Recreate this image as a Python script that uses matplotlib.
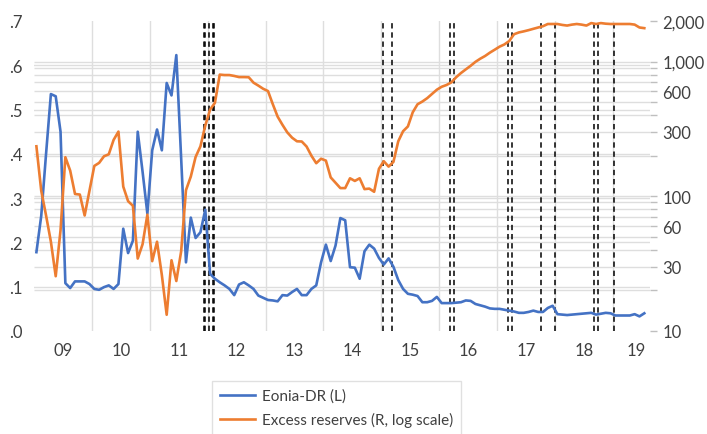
import numpy as np
import matplotlib.pyplot as plt
from matplotlib.ticker import FixedLocator, NullFormatter

plt.rcParams['font.family'] = ['Lato', 'DejaVu Sans']

# monthly data, Jan 2009 - Jul 2019
eonia_dr = [0.178, 0.26, 0.40, 0.535, 0.530, 0.45, 0.108, 0.097, 0.112, 0.112, 0.112, 0.106,
            0.095, 0.093, 0.099, 0.103, 0.095, 0.106, 0.231, 0.176, 0.204, 0.45, 0.36, 0.265,
            0.408, 0.455, 0.408, 0.56, 0.532, 0.623, 0.39, 0.155, 0.256, 0.21, 0.223, 0.274,
            0.129, 0.118, 0.110, 0.103, 0.095, 0.081, 0.105, 0.110, 0.103, 0.095, 0.080, 0.075,
            0.070, 0.069, 0.067, 0.081, 0.080, 0.088, 0.095, 0.081, 0.081, 0.095, 0.103, 0.155,
            0.195, 0.158, 0.193, 0.255, 0.250, 0.144, 0.143, 0.118, 0.180, 0.195, 0.186, 0.165,
            0.150, 0.164, 0.145, 0.115, 0.095, 0.084, 0.082, 0.079, 0.065, 0.065, 0.068, 0.077,
            0.063, 0.063, 0.063, 0.064, 0.065, 0.069, 0.068, 0.061, 0.058, 0.055, 0.051, 0.050,
            0.050, 0.048, 0.046, 0.044, 0.041, 0.041, 0.043, 0.046, 0.043, 0.043, 0.052, 0.057,
            0.038, 0.037, 0.036, 0.037, 0.038, 0.039, 0.040, 0.041, 0.037, 0.039, 0.041, 0.040,
            0.035, 0.035, 0.035, 0.035, 0.038, 0.033, 0.040]

excess_reserves = [235, 110, 72, 46, 25.5, 56, 195, 155, 104, 103, 72, 110,
                   168, 177, 198, 205, 262, 302, 118, 92, 85, 34.5, 44, 73,
                   33, 46, 26, 13.2, 33.5, 23.5, 39, 111, 140, 196, 235, 335,
                   440, 494, 800, 794, 794, 782, 767, 767, 765, 697, 663, 628,
                   604, 482, 390, 339, 298, 272, 256, 255, 234, 200, 176, 190,
                   184, 138, 126, 115, 115, 136, 130, 136, 113, 114, 108, 160,
                   182, 166, 180, 256, 304, 330, 420, 482, 505, 535, 575, 618,
                   650, 670, 700, 765, 822, 875, 930, 995, 1050, 1100, 1165, 1225,
                   1290, 1340, 1420, 1595, 1645, 1675, 1710, 1750, 1790, 1830, 1900, 1900,
                   1900, 1870, 1850, 1880, 1900, 1880, 1850, 1930, 1900, 1930, 1910, 1900,
                   1900, 1900, 1900, 1900, 1880, 1790, 1770]

# dates of the dashed event lines (decimal years)
events = [2011.933, 2011.955, 2012.022, 2012.089, 2012.111,
          2015.02, 2015.18, 2016.19, 2016.26, 2017.18, 2017.26,
          2017.76, 2018.0, 2018.68, 2018.75, 2019.01]

year_labels = ['09', '10', '11', '12', '13', '14', '15', '16', '17', '18', '19']
label_pos = [2009.5, 2010.5, 2011.5, 2012.5, 2013.5, 2014.5, 2015.5, 2016.5, 2017.5, 2018.5, 2019.41]

x = 2009 + (np.arange(len(eonia_dr)) + 0.5) / 12

txt = '#404040'
grid = '#dedede'

fig = plt.figure(figsize=(7.07, 4.35), dpi=100)
ax = fig.add_axes([34 / 707, 1 - 332 / 435, 616 / 707, 310 / 435])
ax2 = ax.twinx()

ax.set_xlim(2009.0, 2019.64)
ax.set_ylim(0, 0.7)
ax2.set_yscale('log')
ax2.set_ylim(10, 2000)

# gridlines (kept behind both series)
for v in np.arange(0.1, 0.65, 0.1):
    ax.axhline(v, color=grid, lw=1, zorder=0)
log_grid = [20, 30, 40, 50, 60, 70, 80, 90, 100, 200, 300, 400, 500, 600, 700, 800, 900, 1000]
ax.hlines(log_grid, 0, 1, transform=ax2.get_yaxis_transform(), color=grid, lw=1, zorder=0)
for yr in range(2010, 2020):
    ax.axvline(yr, color=grid, lw=1, zorder=0)

for e in events:
    ax.axvline(e, color='black', lw=1.1, ls=(0, (3.5, 2.5)), zorder=1)

ax.plot(x, eonia_dr, color='#4472C4', lw=1.9, zorder=3, label='Eonia-DR (L)')
ax2.plot(x, excess_reserves, color='#ED7D31', lw=1.9, zorder=3, label='Excess reserves (R, log scale)')

for a in (ax, ax2):
    for s in a.spines.values():
        s.set_visible(False)

ax.set_yticks(np.arange(0, 0.71, 0.1))
ax.set_yticklabels(['.0', '.1', '.2', '.3', '.4', '.5', '.6', '.7'])
ax.tick_params(axis='y', length=0, pad=8, labelsize=12, labelcolor=txt)
ax.set_xticks(label_pos)
ax.set_xticklabels(year_labels)
ax.tick_params(axis='x', length=0, pad=8, labelsize=12, labelcolor=txt)

right_major = [10, 30, 60, 100, 300, 600, 1000, 2000]
right_minor = [20, 40, 50, 70, 80, 90, 200, 400, 500, 700, 800, 900]
ax2.yaxis.set_major_locator(FixedLocator(right_major))
ax2.set_yticklabels(['10', '30', '60', '100', '300', '600', '1,000', '2,000'])
ax2.yaxis.set_minor_locator(FixedLocator(right_minor))
ax2.yaxis.set_minor_formatter(NullFormatter())
ax2.tick_params(axis='y', which='both', length=5, width=1, color='#bfbfbf',
                pad=4, labelsize=12, labelcolor=txt)

h1, l1 = ax.get_legend_handles_labels()
h2, l2 = ax2.get_legend_handles_labels()
leg = fig.legend(h1 + h2, l1 + l2, loc='upper left', bbox_to_anchor=(212 / 707, 1 - 382 / 435),
                 borderaxespad=0, fontsize=11, frameon=True, fancybox=False,
                 edgecolor='#d9d9d9', handlelength=2.3, handletextpad=0.45,
                 labelspacing=0.6, borderpad=0.5, labelcolor=txt)
leg.get_frame().set_linewidth(1)

fig.savefig('out.png', dpi=100)
